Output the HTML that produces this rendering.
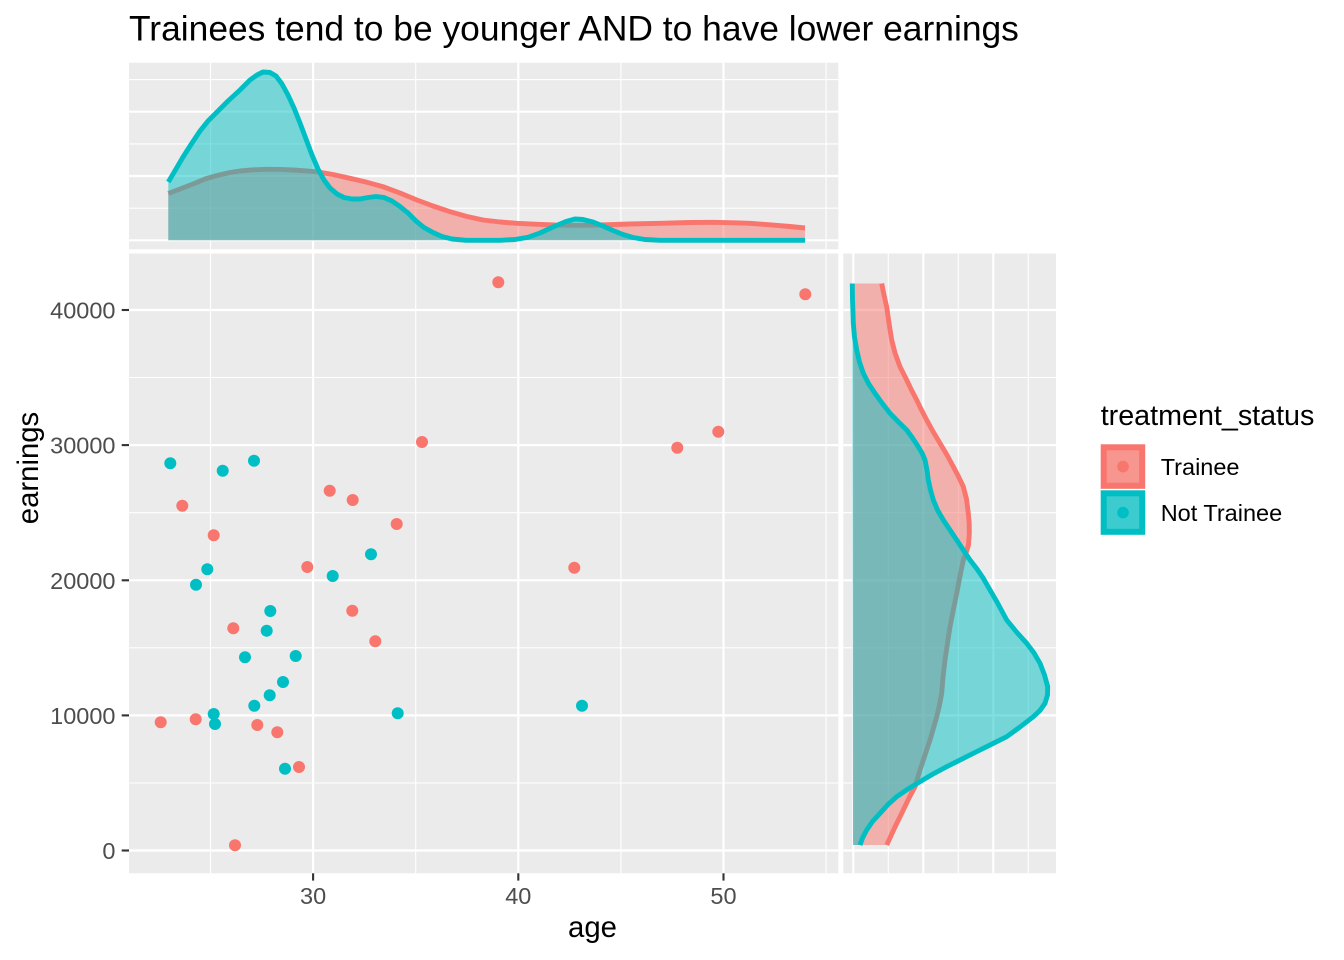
<!DOCTYPE html>
<html>
<head>
<meta charset="utf-8">
<style>
  html, body { margin: 0; padding: 0; background: #ffffff; }
  svg { display: block; }
  text { font-family: "Liberation Sans", Arial, Helvetica, sans-serif; }
</style>
</head>
<body>
<svg width="1344" height="960" viewBox="0 0 1344 960" xmlns="http://www.w3.org/2000/svg">
  <rect x="0" y="0" width="1344" height="960" fill="#ffffff"/>

  <!-- Title -->
  <text x="129" y="40.5" font-size="35.4" fill="#000000">Trainees tend to be younger AND to have lower earnings</text>

  <!-- ============ TOP MARGINAL PANEL ============ -->
  <rect x="129" y="62.7" width="709.3" height="186.6" fill="#EBEBEB"/>
  <g stroke="#ffffff" fill="none">
    <line x1="129" x2="838.3" y1="79.6" y2="79.6" stroke-width="1.1"/>
    <line x1="129" x2="838.3" y1="143.9" y2="143.9" stroke-width="1.1"/>
    <line x1="129" x2="838.3" y1="208.2" y2="208.2" stroke-width="1.1"/>
    <line y1="62.7" y2="249.3" x1="210.5" x2="210.5" stroke-width="1.1"/>
    <line y1="62.7" y2="249.3" x1="415.7" x2="415.7" stroke-width="1.1"/>
    <line y1="62.7" y2="249.3" x1="620.9" x2="620.9" stroke-width="1.1"/>
    <line y1="62.7" y2="249.3" x1="826.1" x2="826.1" stroke-width="1.1"/>
    <line x1="129" x2="838.3" y1="111.7" y2="111.7" stroke-width="2.2"/>
    <line x1="129" x2="838.3" y1="176.0" y2="176.0" stroke-width="2.2"/>
    <line x1="129" x2="838.3" y1="240.3" y2="240.3" stroke-width="2.2"/>
    <line y1="62.7" y2="249.3" x1="313.1" x2="313.1" stroke-width="2.2"/>
    <line y1="62.7" y2="249.3" x1="518.3" x2="518.3" stroke-width="2.2"/>
    <line y1="62.7" y2="249.3" x1="723.5" x2="723.5" stroke-width="2.2"/>
  </g>

  <!-- red (Trainee) density, top -->
  <polygon fill="#F8766D" fill-opacity="0.5" points="168.3,193.5 180,189 193,184 205,179 217,175.5 230,172.5 240,171 253,169.8 267,169.3 280,169.4 293,170 305,170.8 317,171.8 333,174.5 350,178.3 367,182.3 383,186.7 400,193 417,200 433,206 450,211.7 467,216.5 483,220 500,222 517,223.3 535,224.2 555,225 575,225.3 600,225 630,224 660,223.3 690,222.5 714,222.3 735,222.8 750,223.3 770,224.8 790,226.5 805,228 805,240.3 168.3,240.3"/>
  <polyline fill="none" stroke="#F8766D" stroke-width="4.9" stroke-linejoin="round" points="168.3,193.5 180,189 193,184 205,179 217,175.5 230,172.5 240,171 253,169.8 267,169.3 280,169.4 293,170 305,170.8 317,171.8 333,174.5 350,178.3 367,182.3 383,186.7 400,193 417,200 433,206 450,211.7 467,216.5 483,220 500,222 517,223.3 535,224.2 555,225 575,225.3 600,225 630,224 660,223.3 690,222.5 714,222.3 735,222.8 750,223.3 770,224.8 790,226.5 805,228"/>

  <!-- teal (Not Trainee) density, top -->
  <polygon fill="#00BFC4" fill-opacity="0.5" points="168.3,182 176,169 183,157 192,143 200,131 208,121 217,112 228,101 240,90 250,80 257,75 263,72 270,72.5 276,76 282,84 288,95 294,108 300,123 306,139 312,155 318,169 324,180 330,188 337,194 344,197.5 352,199 360,199 368,197.5 376,196.5 384,197.5 392,201 400,206.5 408,213 416,221 424,227.5 433,232.5 442,236.5 452,239 466,240.3 500,240.3 515,239.5 528,237.3 540,233 553,227 566,221.5 575,219 583,219.5 593,222 603,226 613,230.5 623,234.5 633,237.5 645,239.5 660,240.3 805,240.3 805,240.3 168.3,240.3"/>
  <polyline fill="none" stroke="#00BFC4" stroke-width="4.9" stroke-linejoin="round" points="168.3,182 176,169 183,157 192,143 200,131 208,121 217,112 228,101 240,90 250,80 257,75 263,72 270,72.5 276,76 282,84 288,95 294,108 300,123 306,139 312,155 318,169 324,180 330,188 337,194 344,197.5 352,199 360,199 368,197.5 376,196.5 384,197.5 392,201 400,206.5 408,213 416,221 424,227.5 433,232.5 442,236.5 452,239 466,240.3 500,240.3 515,239.5 528,237.3 540,233 553,227 566,221.5 575,219 583,219.5 593,222 603,226 613,230.5 623,234.5 633,237.5 645,239.5 660,240.3 805,240.3"/>

  <!-- ============ MAIN PANEL ============ -->
  <rect x="129" y="253.5" width="709.3" height="619.8" fill="#EBEBEB"/>
  <g stroke="#ffffff" fill="none">
    <line x1="129" x2="838.3" y1="377.5" y2="377.5" stroke-width="1.1"/>
    <line x1="129" x2="838.3" y1="512.7" y2="512.7" stroke-width="1.1"/>
    <line x1="129" x2="838.3" y1="647.8" y2="647.8" stroke-width="1.1"/>
    <line x1="129" x2="838.3" y1="783.0" y2="783.0" stroke-width="1.1"/>
    <line y1="253.5" y2="873.3" x1="210.5" x2="210.5" stroke-width="1.1"/>
    <line y1="253.5" y2="873.3" x1="415.7" x2="415.7" stroke-width="1.1"/>
    <line y1="253.5" y2="873.3" x1="620.9" x2="620.9" stroke-width="1.1"/>
    <line y1="253.5" y2="873.3" x1="826.1" x2="826.1" stroke-width="1.1"/>
    <line x1="129" x2="838.3" y1="310.0" y2="310.0" stroke-width="2.2"/>
    <line x1="129" x2="838.3" y1="445.1" y2="445.1" stroke-width="2.2"/>
    <line x1="129" x2="838.3" y1="580.3" y2="580.3" stroke-width="2.2"/>
    <line x1="129" x2="838.3" y1="715.4" y2="715.4" stroke-width="2.2"/>
    <line x1="129" x2="838.3" y1="850.5" y2="850.5" stroke-width="2.2"/>
    <line y1="253.5" y2="873.3" x1="313.1" x2="313.1" stroke-width="2.2"/>
    <line y1="253.5" y2="873.3" x1="518.3" x2="518.3" stroke-width="2.2"/>
    <line y1="253.5" y2="873.3" x1="723.5" x2="723.5" stroke-width="2.2"/>
  </g>

  <!-- points: Trainee -->
  <g fill="#F8766D">
    <circle cx="498.3" cy="282.3" r="6"/>
    <circle cx="805.3" cy="294.3" r="6"/>
    <circle cx="422" cy="442" r="6"/>
    <circle cx="718.3" cy="431.7" r="6"/>
    <circle cx="677.3" cy="447.7" r="6"/>
    <circle cx="329.7" cy="490.7" r="6"/>
    <circle cx="352.7" cy="500" r="6"/>
    <circle cx="396.7" cy="524" r="6"/>
    <circle cx="182.3" cy="505.7" r="6"/>
    <circle cx="213.7" cy="535.3" r="6"/>
    <circle cx="307.3" cy="567" r="6"/>
    <circle cx="574.3" cy="567.7" r="6"/>
    <circle cx="352.3" cy="610.7" r="6"/>
    <circle cx="233.3" cy="628.3" r="6"/>
    <circle cx="375.3" cy="641.3" r="6"/>
    <circle cx="160.7" cy="722.3" r="6"/>
    <circle cx="195.7" cy="719.3" r="6"/>
    <circle cx="257.3" cy="725" r="6"/>
    <circle cx="277.3" cy="732.3" r="6"/>
    <circle cx="299" cy="767" r="6"/>
    <circle cx="235" cy="845.3" r="6"/>
  </g>
  <!-- points: Not Trainee -->
  <g fill="#00BFC4">
    <circle cx="170.3" cy="463.3" r="6"/>
    <circle cx="222.7" cy="470.7" r="6"/>
    <circle cx="254" cy="460.7" r="6"/>
    <circle cx="371" cy="554.3" r="6"/>
    <circle cx="207.3" cy="569.3" r="6"/>
    <circle cx="196" cy="584.7" r="6"/>
    <circle cx="332.7" cy="576" r="6"/>
    <circle cx="270.3" cy="611" r="6"/>
    <circle cx="266.7" cy="630.7" r="6"/>
    <circle cx="245" cy="657.3" r="6"/>
    <circle cx="295.7" cy="656" r="6"/>
    <circle cx="283" cy="682" r="6"/>
    <circle cx="269.7" cy="695.3" r="6"/>
    <circle cx="254.3" cy="705.7" r="6"/>
    <circle cx="213.7" cy="714" r="6"/>
    <circle cx="215" cy="724" r="6"/>
    <circle cx="397.7" cy="713.3" r="6"/>
    <circle cx="582" cy="705.7" r="6"/>
    <circle cx="285" cy="768.7" r="6"/>
  </g>

  <!-- axis ticks -->
  <g stroke="#333333" stroke-width="2.1">
    <line x1="121.7" x2="129" y1="310.0" y2="310.0"/>
    <line x1="121.7" x2="129" y1="445.1" y2="445.1"/>
    <line x1="121.7" x2="129" y1="580.3" y2="580.3"/>
    <line x1="121.7" x2="129" y1="715.4" y2="715.4"/>
    <line x1="121.7" x2="129" y1="850.5" y2="850.5"/>
    <line y1="873.3" y2="880.6" x1="313.1" x2="313.1"/>
    <line y1="873.3" y2="880.6" x1="518.3" x2="518.3"/>
    <line y1="873.3" y2="880.6" x1="723.5" x2="723.5"/>
  </g>

  <!-- y tick labels -->
  <g font-size="23.5" fill="#4D4D4D" text-anchor="end">
    <text x="115.5" y="318.6">40000</text>
    <text x="115.5" y="453.7">30000</text>
    <text x="115.5" y="588.9">20000</text>
    <text x="115.5" y="724.0">10000</text>
    <text x="115.5" y="859.1">0</text>
  </g>
  <!-- x tick labels -->
  <g font-size="23.5" fill="#4D4D4D" text-anchor="middle">
    <text x="313.1" y="903.8">30</text>
    <text x="518.3" y="903.8">40</text>
    <text x="723.5" y="903.8">50</text>
  </g>

  <!-- axis titles -->
  <text x="592.5" y="937" font-size="29.3" fill="#000000" text-anchor="middle">age</text>
  <text transform="translate(38,468) rotate(-90)" x="0" y="0" font-size="29.3" fill="#000000" text-anchor="middle">earnings</text>

  <!-- ============ RIGHT MARGINAL PANEL ============ -->
  <rect x="843.3" y="253.5" width="212.7" height="619.8" fill="#EBEBEB"/>
  <g stroke="#ffffff" fill="none">
    <line x1="843.3" x2="1056" y1="377.5" y2="377.5" stroke-width="1.1"/>
    <line x1="843.3" x2="1056" y1="512.7" y2="512.7" stroke-width="1.1"/>
    <line x1="843.3" x2="1056" y1="647.8" y2="647.8" stroke-width="1.1"/>
    <line x1="843.3" x2="1056" y1="783.0" y2="783.0" stroke-width="1.1"/>
    <line y1="253.5" y2="873.3" x1="888.3" x2="888.3" stroke-width="1.1"/>
    <line y1="253.5" y2="873.3" x1="958.3" x2="958.3" stroke-width="1.1"/>
    <line y1="253.5" y2="873.3" x1="1028.3" x2="1028.3" stroke-width="1.1"/>
    <line x1="843.3" x2="1056" y1="310.0" y2="310.0" stroke-width="2.2"/>
    <line x1="843.3" x2="1056" y1="445.1" y2="445.1" stroke-width="2.2"/>
    <line x1="843.3" x2="1056" y1="580.3" y2="580.3" stroke-width="2.2"/>
    <line x1="843.3" x2="1056" y1="715.4" y2="715.4" stroke-width="2.2"/>
    <line x1="843.3" x2="1056" y1="850.5" y2="850.5" stroke-width="2.2"/>
    <line y1="253.5" y2="873.3" x1="853.3" x2="853.3" stroke-width="2.2"/>
    <line y1="253.5" y2="873.3" x1="923.3" x2="923.3" stroke-width="2.2"/>
    <line y1="253.5" y2="873.3" x1="993.3" x2="993.3" stroke-width="2.2"/>
  </g>

  <!-- red density, right -->
  <polygon fill="#F8766D" fill-opacity="0.5" points="853,283.5 881.7,283.5 884,295 886.7,307 889,323 891.7,340 895,353 900,366.7 906.7,380 911.5,390 916.7,400 921.5,410 926.7,420 933,431.5 940,443.3 947,455 953.3,466.7 958.5,476.5 963.3,486.7 966.5,499 968.3,513.3 969.2,523 969.3,533.3 968.5,545 966,553 963.3,560 960,576 956.7,593.3 953.3,610 950,626.7 947.5,643 945,660 943,677 941.7,693.3 939.5,705 936.7,716.7 933.5,728 930,740 925,755 920,770 915,786.7 909,798 903.3,810 895,827 886.7,845 853,845"/>
  <polyline fill="none" stroke="#F8766D" stroke-width="4.9" stroke-linejoin="round" points="881.7,283.5 884,295 886.7,307 889,323 891.7,340 895,353 900,366.7 906.7,380 911.5,390 916.7,400 921.5,410 926.7,420 933,431.5 940,443.3 947,455 953.3,466.7 958.5,476.5 963.3,486.7 966.5,499 968.3,513.3 969.2,523 969.3,533.3 968.5,545 966,553 963.3,560 960,576 956.7,593.3 953.3,610 950,626.7 947.5,643 945,660 943,677 941.7,693.3 939.5,705 936.7,716.7 933.5,728 930,740 925,755 920,770 915,786.7 909,798 903.3,810 895,827 886.7,845"/>

  <!-- teal density, right -->
  <polygon fill="#00BFC4" fill-opacity="0.5" points="852.3,283.5 852.5,300 853,313 853.3,323.3 854.5,337 856.7,350 859.5,362 863.3,373.3 868.5,383.5 875,393.3 882,403 890,413.3 898,421.5 906.7,430 912.5,438 918.3,446.7 922,453 925,460 927,470 928.3,480 930.5,490 933.3,500 937.5,510 943.3,520 950,530 956.7,540 963.3,550 970,560 977,569 983.3,578.3 990,590 997,602 1006.7,620 1016.5,632 1026.7,643.3 1034,653 1040,663.3 1044.5,675 1047.7,686.7 1047.5,695 1045,703.3 1040,710.5 1033.3,716.7 1020,727 1006.7,736.7 990,745 973.3,753.3 960,760 946.7,766.7 933,774 920,781.7 908,789 896.7,796.7 888,804.5 880,813.3 872.5,821.5 866.7,830 862.5,838 860,845 853,845"/>
  <polyline fill="none" stroke="#00BFC4" stroke-width="4.9" stroke-linejoin="round" points="852.3,283.5 852.5,300 853,313 853.3,323.3 854.5,337 856.7,350 859.5,362 863.3,373.3 868.5,383.5 875,393.3 882,403 890,413.3 898,421.5 906.7,430 912.5,438 918.3,446.7 922,453 925,460 927,470 928.3,480 930.5,490 933.3,500 937.5,510 943.3,520 950,530 956.7,540 963.3,550 970,560 977,569 983.3,578.3 990,590 997,602 1006.7,620 1016.5,632 1026.7,643.3 1034,653 1040,663.3 1044.5,675 1047.7,686.7 1047.5,695 1045,703.3 1040,710.5 1033.3,716.7 1020,727 1006.7,736.7 990,745 973.3,753.3 960,760 946.7,766.7 933,774 920,781.7 908,789 896.7,796.7 888,804.5 880,813.3 872.5,821.5 866.7,830 862.5,838 860,845"/>

  <!-- ============ LEGEND ============ -->
  <text x="1100.7" y="425" font-size="28.7" fill="#000000">treatment_status</text>
  <rect x="1100.7" y="444.3" width="44.5" height="44.5" fill="#F2F2F2"/>
  <rect x="1103.7" y="447.3" width="38.5" height="38.5" fill="#F7958F" stroke="#F8766D" stroke-width="6"/>
  <circle cx="1123" cy="466.6" r="5.8" fill="#F8766D"/>
  <rect x="1100.7" y="490.3" width="44.5" height="44.5" fill="#F2F2F2"/>
  <rect x="1103.7" y="493.3" width="38.5" height="38.5" fill="#3CCCCF" stroke="#00BFC4" stroke-width="6"/>
  <circle cx="1123" cy="512.6" r="5.8" fill="#00BFC4"/>
  <g font-size="23.5" fill="#000000">
    <text x="1160.7" y="475">Trainee</text>
    <text x="1160.7" y="521">Not Trainee</text>
  </g>
</svg>
</body>
</html>
